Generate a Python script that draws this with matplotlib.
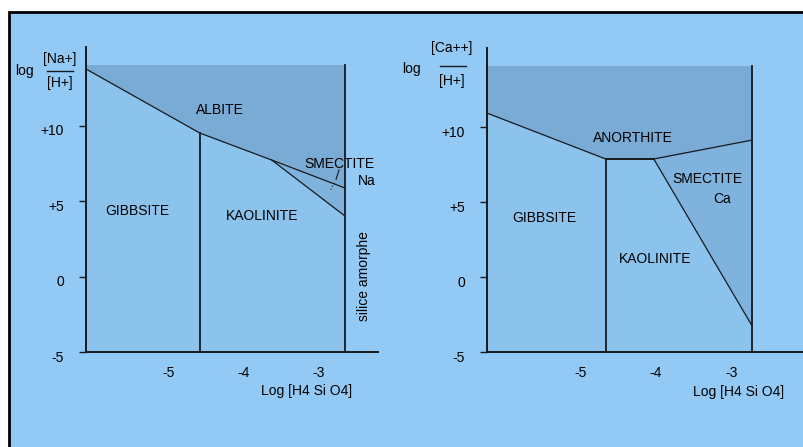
import matplotlib
matplotlib.use("Agg")
import matplotlib.pyplot as plt
from matplotlib.patches import Rectangle
from matplotlib.lines import Line2D
from matplotlib.transforms import ScaledTranslation

plt.rcParams['font.family'] = ['Liberation Sans', 'DejaVu Sans']
plt.rcParams['font.size'] = 10

W, H = 804, 447

# --- stability diagram data (log activities) ---
# Na system
na_xlim = (-6.1, -2.2)
na_top = 14.04
na_albite_x = [-6.1, -4.58, -3.62]
na_albite_y = [13.78, 9.53, 7.74]
na_smec_upper_x = [-3.62, -2.64]
na_smec_upper_y = [7.74, 5.88]
na_smec_lower_x = [-3.62, -2.64]
na_smec_lower_y = [7.74, 4.02]
na_gibbs_kaol_x = -4.58
na_silica_x = -2.64

# Ca system
ca_xlim = (-6.25, -2.03)
ca_top = 14.07
ca_anorth_x = [-6.25, -4.67, -4.03, -2.72]
ca_anorth_y = [10.93, 7.87, 7.87, 9.13]
ca_smec_x = [-4.03, -2.72]
ca_smec_y = [7.87, -3.27]
ca_gibbs_kaol_x = -4.67
ca_silica_x = -2.72

xticks = [-5, -4, -3]
xtick_labels = ['-5', '-4', '-3']
yticks = [10, 5, 0, -5]
ytick_labels = ['+10', '+5', '0', '-5']

PANEL = '#92c9f5'
FIELD = '#8bc3ed'
DARK = '#7aabd4'
SMEC = '#7fb2dd'
INK = '#161a1e'


def px(x, y):
    return x / W, 1 - y / H


fig = plt.figure(figsize=(W / 100, H / 100), dpi=100, facecolor='white')

# blue panel with a black border along the top and left edges
fig.add_artist(Rectangle((9.5 / W, -50 / H), 900 / W, (447 - 12 + 50) / H,
                         transform=fig.transFigure, facecolor=PANEL,
                         edgecolor='black', linewidth=2, zorder=-10))


def make_axes(x0, x1, ytop, ybot, xlim, ymax):
    ax = fig.add_axes([x0 / W, 1 - ybot / H, (x1 - x0) / W, (ybot - ytop) / H])
    ax.set_zorder(1)
    ax.patch.set_alpha(0)
    ax.set_xlim(*xlim)
    ax.set_ylim(-5, ymax)
    for s in ['top', 'right']:
        ax.spines[s].set_visible(False)
    for s in ['left', 'bottom']:
        ax.spines[s].set_linewidth(1.4)
        ax.spines[s].set_color(INK)
        ax.spines[s].set_zorder(5)
    ax.set_xticks(xticks, xtick_labels)
    ax.set_yticks(yticks, ytick_labels)
    ax.tick_params(axis='x', length=0, pad=10)
    ax.tick_params(axis='y', length=5, width=1, color=INK, pad=11)
    off = ScaledTranslation(0, -0.04, fig.dpi_scale_trans)
    for lab in ax.get_yticklabels():
        lab.set_transform(lab.get_transform() + off)
    return ax


# ---------------- Na+ diagram ----------------
ax1 = make_axes(86, 378, 47, 352, na_xlim, 15.24)
ax1.fill_between([na_xlim[0], na_silica_x], -5, na_top, color=FIELD, lw=0, zorder=1)
ax1.fill(na_albite_x + na_smec_upper_x[1:] + [na_silica_x, na_xlim[0]],
         na_albite_y + na_smec_upper_y[1:] + [na_top, na_top], color=DARK, lw=0, zorder=2)
ax1.fill(na_smec_upper_x + na_smec_lower_x[::-1],
         na_smec_upper_y + na_smec_lower_y[::-1], color=SMEC, lw=0, zorder=2)
ax1.plot(na_albite_x + na_smec_upper_x[1:], na_albite_y + na_smec_upper_y[1:], color=INK, lw=0.9, zorder=3)
ax1.plot(na_smec_lower_x, na_smec_lower_y, color=INK, lw=0.9, zorder=3)
ax1.plot([na_gibbs_kaol_x] * 2, [-5, na_albite_y[1]], color=INK, lw=1.3, zorder=3)
ax1.plot([na_silica_x] * 2, [-5, na_top], color=INK, lw=1.3, zorder=3)
# pointer from the SMECTITE label into its narrow field
ax1.plot([-2.72, -2.76], [7.08, 6.46], color=INK, lw=0.8, zorder=3)
ax1.plot([-2.78, -2.84], [6.22, 5.72], color=INK, lw=0.8, ls=(0, (1, 2)), zorder=3)

ax1.text(-4.31, 11.06, 'ALBITE', ha='center', va='center')
ax1.text(-2.72, 7.47, 'SMECTITE', ha='center', va='center')
ax1.text(-2.35, 6.35, 'Na', ha='center', va='center')
ax1.text(-5.41, 4.36, 'GIBBSITE', ha='center', va='center')
ax1.text(-3.75, 4.02, 'KAOLINITE', ha='center', va='center')
ax1.text(-2.39, 0.04, 'silice amorphe', ha='center', va='center', rotation=90)

fig.text(*px(24, 71), 'log', ha='center', va='center')
fig.text(*px(60, 59), '[Na+]', ha='center', va='center')
fig.add_artist(Line2D([47 / W, 73 / W], [1 - 71 / H] * 2, color=INK, lw=1))
fig.text(*px(60, 83), '[H+]', ha='center', va='center')
fig.text(*px(307, 391), 'Log [H4 Si O4]', ha='center', va='center')

# ---------------- Ca++ diagram ----------------
ax2 = make_axes(487, 804, 48, 352, ca_xlim, 15.27)
ax2.fill_between([ca_xlim[0], ca_silica_x], -5, ca_top, color=FIELD, lw=0, zorder=1)
ax2.fill(ca_anorth_x + [ca_silica_x, ca_xlim[0]],
         ca_anorth_y + [ca_top, ca_top], color=DARK, lw=0, zorder=2)
ax2.fill([ca_smec_x[0], ca_silica_x, ca_silica_x],
         [ca_smec_y[0], ca_anorth_y[-1], ca_smec_y[1]], color=SMEC, lw=0, zorder=2)
ax2.plot(ca_anorth_x, ca_anorth_y, color=INK, lw=0.9, zorder=3)
ax2.plot(ca_anorth_x[1:3], ca_anorth_y[1:3], color=INK, lw=1.3, zorder=3)
ax2.plot(ca_smec_x, ca_smec_y, color=INK, lw=0.9, zorder=3)
ax2.plot([ca_gibbs_kaol_x] * 2, [-5, ca_anorth_y[1]], color=INK, lw=1.3, zorder=3)
ax2.plot([ca_silica_x] * 2, [-5, ca_top], color=INK, lw=1.3, zorder=3)

ax2.text(-4.306, 9.27, 'ANORTHITE', ha='center', va='center')
ax2.text(-3.32, 6.53, 'SMECTITE', ha='center', va='center')
ax2.text(-3.12, 5.2, 'Ca', ha='center', va='center')
ax2.text(-5.49, 3.93, 'GIBBSITE', ha='center', va='center')
ax2.text(-4.01, 1.2, 'KAOLINITE', ha='center', va='center')

fig.text(*px(411, 69), 'log', ha='center', va='center')
fig.text(*px(452, 48), '[Ca++]', ha='center', va='center')
fig.add_artist(Line2D([440 / W, 466 / W], [1 - 66 / H] * 2, color=INK, lw=1))
fig.text(*px(452, 81), '[H+]', ha='center', va='center')
fig.text(*px(739, 392), 'Log [H4 Si O4]', ha='center', va='center')

fig.savefig('out.png', dpi=100, facecolor='white')
